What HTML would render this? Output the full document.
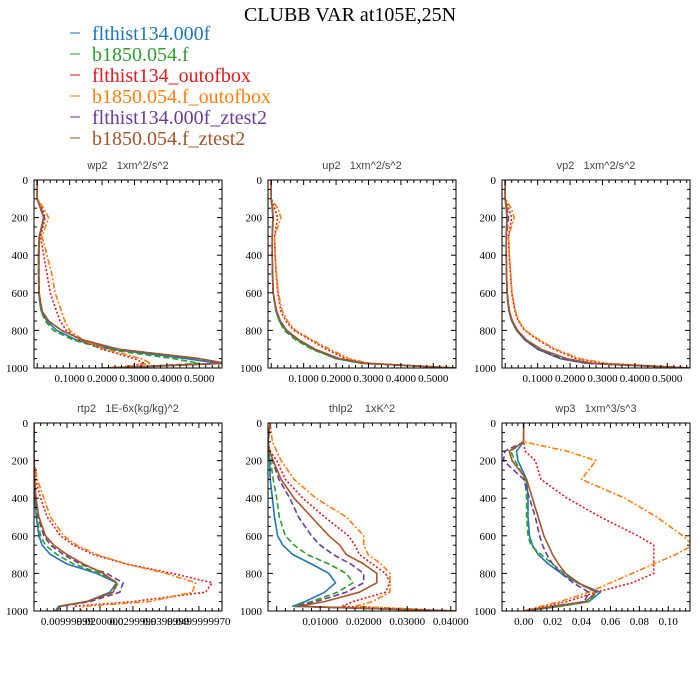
<!DOCTYPE html>
<html><head><meta charset="utf-8"><style>
html,body{margin:0;padding:0;background:#fff;}
svg{display:block;}
.pt{white-space:pre;}
</style></head><body>
<svg id="chart" width="700" height="700" viewBox="0 0 700 700" xmlns="http://www.w3.org/2000/svg">
<text x="350" y="21" text-anchor="middle" font-family="Liberation Serif, serif" font-size="20" fill="#000">CLUBB VAR at105E,25N</text>
<g id="legend"></g>
<g id="panels"></g>
</svg>
<script>
const seriesNames = ["flthist134.000f","b1850.054.f","flthist134_outofbox","b1850.054.f_outofbox","flthist134.000f_ztest2","b1850.054.f_ztest2"];
const seriesColors = ["#1f77b4","#2ca02c","#e41a1c","#ff7f0e","#6a3d9a","#a65628"];
const seriesDash = ["", "6,3", "2,2", "6,2,2,2", "6,3", ""];
const levels = [0,100,150,200,300,400,500,600,650,700,750,800,850,900,950,975,1000];
const yTicks = [0,200,400,600,800,1000];

const panelTitles = ["wp2   1xm^2/s^2","up2   1xm^2/s^2","vp2   1xm^2/s^2","rtp2   1E-6x(kg/kg)^2","thlp2    1xK^2","wp3   1xm^3/s^3"];
const panelXMin = [-0.01,-0.01,-0.01,0,-0.002,-0.015];
const panelXMax = [0.57,0.57,0.57,0.057,0.0412,0.115];
const ticksWp2 = [0.1,0.2,0.3,0.4,0.5];
const ticksRtp2 = [0.01,0.02,0.03,0.04,0.05];
const ticksThlp2 = [0.01,0.02,0.03,0.04];
const ticksWp3 = [0,0.02,0.04,0.06,0.08,0.10];
const tickLabelsWp2 = ["0.1000","0.2000","0.3000","0.4000","0.5000"];
const tickLabelsRtp2 = ["0.00999999","0.0200000","0.0299999","0.0399999","0.0499999970"];
const tickLabelsThlp2 = ["0.01000","0.02000","0.03000","0.04000"];
const tickLabelsWp3 = ["0.00","0.02","0.04","0.06","0.08","0.10"];

const wp2Values = [
 [0,0,0.01,0.02,0.006,0.004,0.004,0.005,0.008,0.013,0.03,0.06,0.12,0.23,0.46,0.56,0.25],
 [0,0,0.01,0.02,0.006,0.004,0.004,0.005,0.008,0.012,0.025,0.05,0.11,0.21,0.42,0.50,0.25],
 [0,0,0.015,0.025,0.01,0.02,0.03,0.04,0.05,0.06,0.07,0.09,0.13,0.20,0.30,0.33,0.25],
 [0,0,0.02,0.035,0.015,0.03,0.045,0.055,0.065,0.075,0.085,0.10,0.14,0.21,0.32,0.35,0.25],
 [0,0,0.012,0.022,0.007,0.005,0.005,0.006,0.01,0.016,0.035,0.075,0.14,0.25,0.50,0.58,0.2],
 [0,0,0.01,0.02,0.007,0.005,0.005,0.006,0.01,0.016,0.035,0.075,0.14,0.25,0.50,0.58,0.2]];
const up2Values = [
 [0,0,0.003,0.005,0.003,0.003,0.004,0.006,0.01,0.015,0.025,0.045,0.08,0.13,0.2,0.28,0.57],
 [0,0,0.003,0.005,0.003,0.003,0.004,0.006,0.01,0.015,0.025,0.04,0.075,0.125,0.2,0.28,0.57],
 [0,0,0.01,0.02,0.01,0.012,0.015,0.02,0.025,0.03,0.045,0.07,0.12,0.17,0.23,0.3,0.57],
 [0,0,0.02,0.03,0.01,0.012,0.016,0.022,0.028,0.035,0.05,0.075,0.125,0.18,0.24,0.3,0.57],
 [0,0,0.004,0.006,0.003,0.003,0.004,0.006,0.011,0.017,0.028,0.048,0.085,0.135,0.21,0.29,0.57],
 [0,0,0.004,0.006,0.003,0.003,0.004,0.006,0.011,0.017,0.028,0.048,0.085,0.135,0.21,0.29,0.57]];
const vp2Values = [
 [0,0,0.003,0.005,0.003,0.003,0.004,0.006,0.008,0.012,0.02,0.035,0.06,0.1,0.17,0.25,0.57],
 [0,0,0.003,0.005,0.003,0.003,0.004,0.006,0.008,0.012,0.02,0.035,0.062,0.105,0.18,0.26,0.57],
 [0,0,0.01,0.02,0.01,0.012,0.016,0.02,0.025,0.03,0.04,0.06,0.1,0.15,0.22,0.3,0.57],
 [0,0,0.018,0.028,0.01,0.013,0.017,0.021,0.026,0.032,0.042,0.062,0.105,0.155,0.23,0.31,0.57],
 [0,0,0.005,0.01,0.004,0.003,0.004,0.006,0.009,0.013,0.021,0.036,0.062,0.1,0.17,0.25,0.57],
 [0,0,0.004,0.006,0.003,0.003,0.004,0.006,0.009,0.013,0.022,0.038,0.065,0.11,0.19,0.27,0.57]];
const rtp2Values = [
 [0,0,0,0,0.0001,0.0003,0.0007,0.0015,0.0025,0.005,0.010,0.019,0.025,0.023,0.016,0.0075,0.0065],
 [0,0,0,0,0.0001,0.0003,0.0008,0.002,0.0035,0.007,0.012,0.020,0.0255,0.024,0.016,0.008,0.007],
 [0,0,0,0,0.0005,0.002,0.004,0.008,0.012,0.018,0.028,0.042,0.054,0.052,0.030,0.012,0.012],
 [0,0,0,0,0.001,0.003,0.005,0.009,0.013,0.019,0.028,0.040,0.049,0.048,0.035,0.015,0.014],
 [0,0,0,0,0.0002,0.0005,0.0012,0.003,0.005,0.009,0.014,0.022,0.027,0.026,0.017,0.008,0.007],
 [0,0,0,0,0.0002,0.0006,0.0015,0.0035,0.006,0.010,0.015,0.021,0.025,0.024,0.016,0.008,0.007]];
const thlp2Values = [
 [-0.0015,-0.002,-0.0018,-0.0016,-0.0015,-0.001,-0.0005,0.0002,0.0014,0.0037,0.008,0.012,0.0135,0.011,0.0065,0.0037,0.041],
 [-0.0015,-0.002,-0.0018,-0.0014,-0.0008,0,0.0006,0.002,0.004,0.007,0.012,0.016,0.0175,0.014,0.008,0.004,0.041],
 [-0.0015,-0.002,-0.0015,0,0.002,0.006,0.011,0.0165,0.018,0.019,0.022,0.025,0.026,0.025,0.0175,0.015,0.041],
 [-0.0015,-0.001,0,0.001,0.004,0.009,0.016,0.020,0.020,0.021,0.024,0.026,0.026,0.026,0.022,0.018,0.041],
 [-0.0015,-0.002,-0.0016,-0.001,0.0005,0.003,0.005,0.008,0.010,0.013,0.017,0.020,0.020,0.016,0.009,0.0045,0.041],
 [-0.0015,-0.002,-0.0016,-0.0008,0.001,0.004,0.008,0.012,0.0145,0.016,0.020,0.023,0.023,0.019,0.011,0.005,0.041]];
const wp3Values = [
 [0,0,-0.005,-0.004,0.002,0.003,0.003,0.004,0.006,0.01,0.017,0.026,0.037,0.053,0.045,0.025,0],
 [0,0,-0.009,-0.006,0.001,0.002,0.002,0.003,0.005,0.012,0.02,0.028,0.037,0.05,0.045,0.025,0],
 [0,0,0.001,0.008,0.012,0.03,0.053,0.079,0.09,0.09,0.09,0.09,0.075,0.05,0.03,0.015,0],
 [0,0,0.03,0.05,0.04,0.07,0.092,0.11,0.117,0.105,0.09,0.075,0.06,0.045,0.025,0.012,0],
 [0,0,-0.013,-0.014,0,0.004,0.008,0.011,0.013,0.016,0.02,0.026,0.034,0.045,0.042,0.02,0],
 [0,0,-0.01,-0.008,0.002,0.006,0.01,0.014,0.017,0.02,0.024,0.029,0.038,0.05,0.043,0.02,0]];

const panelData = [wp2Values,up2Values,vp2Values,rtp2Values,thlp2Values,wp3Values];
const panelTicks = [ticksWp2,ticksWp2,ticksWp2,ticksRtp2,ticksThlp2,ticksWp3];
const panelTickLabels = [tickLabelsWp2,tickLabelsWp2,tickLabelsWp2,tickLabelsRtp2,tickLabelsThlp2,tickLabelsWp3];
const panelNames = ["wp2","up2","vp2","rtp2","thlp2","wp3"];

const NS = "http://www.w3.org/2000/svg";
function mk(tag, attrs, parent){const e=document.createElementNS(NS,tag);for(const k in attrs)e.setAttribute(k,attrs[k]);parent.appendChild(e);return e;}

const leg = document.getElementById('legend');
seriesNames.forEach((n,i)=>{
  const y = 33 + i*21;
  const l = mk('line',{x1:70,x2:80,y1:y,y2:y,stroke:seriesColors[i],'stroke-width':1.5,opacity:0.7},leg);
  
  
  const t = mk('text',{x:92,y:y+7,'font-family':'Liberation Serif, serif','font-size':20,fill:seriesColors[i]},leg);
  t.textContent = n;
  
  
});

const panelsG = document.getElementById('panels');
const boxX = [34,268,502], boxY = [180,423], W = 188, H = 188;
panelData.forEach((data,pi)=>{
  const x0 = boxX[pi%3], y0 = boxY[Math.floor(pi/3)];
  const xmin = panelXMin[pi], xmax = panelXMax[pi];
  const sx = v => x0 + (v - xmin)/(xmax - xmin)*W;
  const sy = p => y0 + p/1000*H;
  const g = mk('g',{},panelsG);
  
  
  const tt = mk('text',{x:x0+W/2,y:y0-11,'text-anchor':'middle','font-family':'Liberation Sans, sans-serif','font-size':11,fill:'#444','class':'pt'},g);
  tt.textContent = panelTitles[pi];
  
  
  const cp = mk('clipPath',{id:'clip'+pi},g);
  mk('rect',{x:x0,y:y0,width:W,height:H},cp);
  data.forEach((vals,si)=>{
    const pts = vals.map((v,k)=>sx(v).toFixed(1)+','+sy(levels[k]).toFixed(1)).join(' ');
    const pl = mk('polyline',{points:pts,fill:'none',stroke:seriesColors[si],'stroke-width':1.6,'stroke-dasharray':seriesDash[si],'stroke-linejoin':'round','clip-path':'url(#clip'+pi+')'},g);
    
    
  });
  const box = mk('rect',{x:x0,y:y0,width:W,height:H,fill:'none',stroke:'#000','stroke-width':1},g);
  
  
  for(let p=0;p<=1000;p+=50){
    const len = p%200===0?5:3, y=sy(p);
    mk('line',{x1:x0,x2:x0+len,y1:y,y2:y,stroke:'#000','stroke-width':1},g);
    mk('line',{x1:x0+W,x2:x0+W-len,y1:y,y2:y,stroke:'#000','stroke-width':1},g);
  }
  yTicks.forEach(p=>{
    const t = mk('text',{x:x0-6,y:sy(p)+4,'text-anchor':'end','font-family':'Liberation Serif, serif','font-size':11,fill:'#000'},g);
    t.textContent = p;
    
    
  });
  const ticks = panelTicks[pi];
  const step = ticks[1]-ticks[0];
  for(let v=ticks[0]-step*5; v<=xmax+1e-12; v+=step/5){
    if(v<xmin) continue;
    const major = Math.abs((v-ticks[0])/step - Math.round((v-ticks[0])/step))<1e-6;
    const len = major?5:3, x=sx(v);
    mk('line',{x1:x,x2:x,y1:y0,y2:y0+len,stroke:'#000','stroke-width':1},g);
    mk('line',{x1:x,x2:x,y1:y0+H,y2:y0+H-len,stroke:'#000','stroke-width':1},g);
  }
  ticks.forEach((v,k)=>{
    const t = mk('text',{x:sx(v),y:y0+H+14,'text-anchor':'middle','font-family':'Liberation Serif, serif','font-size':11,fill:'#000'},g);
    t.textContent = panelTickLabels[pi][k];
    
    
  });
});
</script>
</body></html>
